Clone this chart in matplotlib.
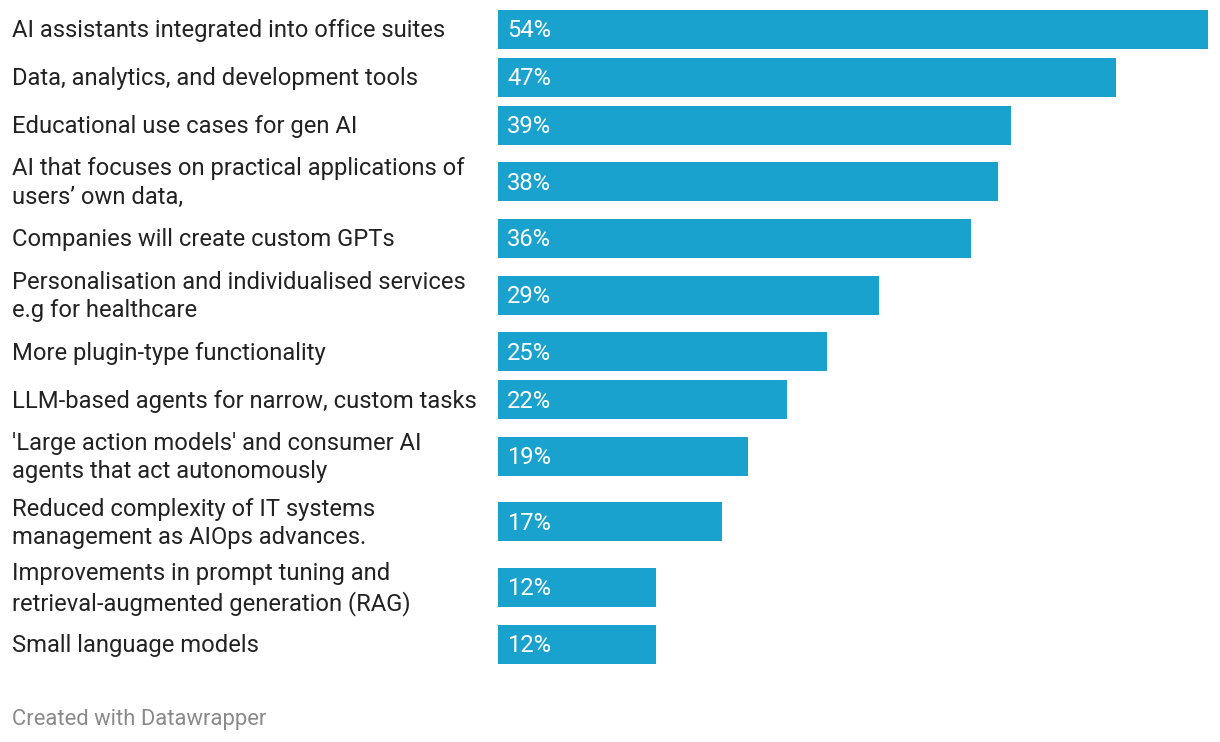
import matplotlib.pyplot as plt

# Data
labels = [
    "AI assistants integrated into office suites",
    "Data, analytics, and development tools",
    "Educational use cases for gen AI",
    "AI that focuses on practical applications of\nusers\u2019 own data,",
    "Companies will create custom GPTs",
    "Personalisation and individualised services\ne.g for healthcare",
    "More plugin-type functionality",
    "LLM-based agents for narrow, custom tasks",
    "'Large action models' and consumer AI\nagents that act autonomously",
    "Reduced complexity of IT systems\nmanagement as AIOps advances.",
    "Improvements in prompt tuning and\nretrieval-augmented generation (RAG)",
    "Small language models",
]
values = [54, 47, 39, 38, 36, 29, 25, 22, 19, 17, 12, 12]

bar_color = '#19a2cd'
text_color = '#222222'

plt.rcParams['font.family'] = ['Roboto', 'DejaVu Sans']

W, H = 1220, 742
fig = plt.figure(figsize=(W / 100, H / 100), dpi=100)

# bar area in pixel terms: x from 498 to 1208, y in pixels (top = 0)
ax = fig.add_axes([498 / W, 0, (1208 - 498) / W, 1])
ax.set_xlim(0, max(values))
ax.set_ylim(H, 0)
ax.axis('off')

# row centres: one-line rows take 48px, two-line rows ~66px
centers = []
y = 5.5
for lab in labels:
    half = 32.8 if '\n' in lab else 23.9
    y += half
    centers.append(y)
    y += half

ax.barh(centers, values, height=39, color=bar_color, linewidth=0)

fs = 17.1
for c, v, lab in zip(centers, values, labels):
    ax.text(0.7, c + 1.5, f'{v}%', color='white', fontsize=fs,
            va='center', ha='left')
    fig.text(12 / W, 1 - (c + 1.5) / H, lab, color=text_color, fontsize=fs,
             va='center', ha='left', linespacing=1.3)

fig.text(12 / W, 1 - 719 / H, 'Created with Datawrapper', color='#8a8a8a',
         fontsize=15.8, va='center', ha='left')

fig.savefig('out.png', dpi=100)
plt.close(fig)
